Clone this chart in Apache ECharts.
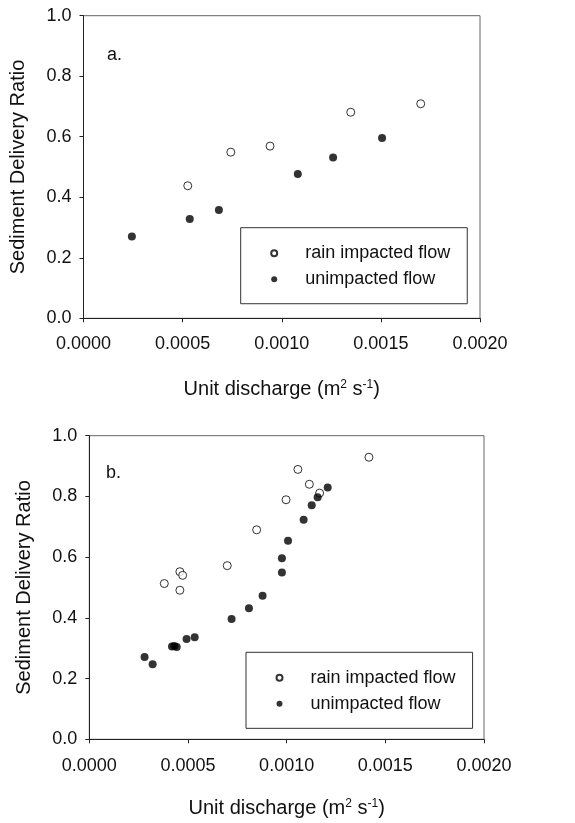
<!doctype html>
<html>
<head>
    <title>Sediment Delivery Ratio</title>
    <script src="https://cdn.jsdelivr.net/npm/echarts@6/dist/echarts.min.js"></script>
</head>
<style>
    html, body { margin: 0; padding: 0; background: #fff; }
    #main { width: 575px; height: 823px; }
</style>
<body>
<div id="main"></div>
<script>
  // panel a
  var aRainX = [0.000526, 0.000743, 0.000941, 0.001348, 0.001701];
  var aRainY = [0.438, 0.549, 0.569, 0.681, 0.709];
  var aDryX = [0.000244, 0.000536, 0.000683, 0.001081, 0.001259, 0.001506];
  var aDryY = [0.270, 0.328, 0.358, 0.477, 0.531, 0.596];

  // panel b
  var bRainX = [0.000380, 0.000459, 0.000473, 0.000459, 0.000699, 0.000848,
                0.000997, 0.001057, 0.001115, 0.001167, 0.001417];
  var bRainY = [0.513, 0.552, 0.540, 0.491, 0.572, 0.690,
                0.789, 0.889, 0.840, 0.811, 0.929];
  var bDryX = [0.000280, 0.000321, 0.000419, 0.000431, 0.000443, 0.000493,
               0.000534, 0.000721, 0.000809, 0.000878, 0.000976, 0.000976,
               0.001007, 0.001086, 0.001127, 0.001157, 0.001208];
  var bDryY = [0.271, 0.247, 0.306, 0.307, 0.304, 0.330,
               0.336, 0.396, 0.432, 0.473, 0.596, 0.549,
               0.654, 0.723, 0.771, 0.797, 0.829];

  var xTicks = [0, 0.0005, 0.001, 0.0015, 0.002];
  var yTicks = [0, 0.2, 0.4, 0.6, 0.8, 1.0];
  var rainName = 'rain impacted flow';
  var dryName = 'unimpacted flow';

  function zip(xs, ys) {
    return xs.map(function (x, i) { return [x, ys[i]]; });
  }

  var font = '"Liberation Sans", Arial, sans-serif';

  function xAxis(idx, nameGap, margin) {
    return {
      type: 'value', gridIndex: idx,
      min: xTicks[0], max: xTicks[xTicks.length - 1], interval: 0.0005,
      name: '{n|Unit discharge (m}{s|2}{n| s}{s|-1}{n|)}',
      nameLocation: 'middle', nameGap: nameGap,
      nameTextStyle: {
        rich: {
          n: { fontFamily: font, fontSize: 20, color: '#111' },
          s: { fontFamily: font, fontSize: 12, color: '#111', padding: [0, 0, 10, 0] }
        }
      },
      axisLine: { show: true, lineStyle: { color: '#222', width: 1 } },
      axisTick: { show: true, inside: false, length: 4, lineStyle: { color: '#222' } },
      axisLabel: {
        margin: margin, fontFamily: font, fontSize: 18, color: '#111',
        formatter: function (v) { return v.toFixed(4); }
      },
      splitLine: { show: false }
    };
  }

  function yAxis(idx, nameGap, margin) {
    return {
      type: 'value', gridIndex: idx,
      min: yTicks[0], max: yTicks[yTicks.length - 1], interval: 0.2,
      name: 'Sediment Delivery Ratio',
      nameLocation: 'middle', nameGap: nameGap,
      nameTextStyle: { fontFamily: font, fontSize: 20, color: '#111' },
      axisLine: { show: true, lineStyle: { color: '#222', width: 1 } },
      axisTick: { show: true, inside: false, length: 4, lineStyle: { color: '#222' } },
      axisLabel: {
        margin: margin, fontFamily: font, fontSize: 18, color: '#111',
        formatter: function (v) { return v.toFixed(1); }
      },
      splitLine: { show: false }
    };
  }

  function legend(left, top) {
    return {
      orient: 'vertical', left: left, top: top,
      data: [rainName, dryName],
      itemWidth: 52, itemHeight: 6, itemGap: -5,
      padding: [10, 17, 9, 29.5],
      borderColor: '#333', borderWidth: 1, borderRadius: 0,
      textStyle: { fontFamily: font, fontSize: 18, color: '#111', lineHeight: 20 },
      selectedMode: false
    };
  }

  var openStyle = { color: '#fff', borderColor: '#000', borderWidth: 1 };
  var fullStyle = { color: '#000', borderColor: '#000', borderWidth: 0 };

  var chart = echarts.init(document.getElementById('main'));
  chart.setOption({
    backgroundColor: '#fff',
    animation: false,
    grid: [
      { left: 83.5, top: 15.7, width: 396.5, height: 302.6, outerBoundsMode: 'none', containLabel: false,
        show: true, borderColor: '#666', borderWidth: 1 },
      { left: 89.3, top: 435.7, width: 394.7, height: 303.6, outerBoundsMode: 'none', containLabel: false,
        show: true, borderColor: '#666', borderWidth: 1 }
    ],
    xAxis: [xAxis(0, 54, 10), xAxis(1, 52, 11)],
    yAxis: [yAxis(0, 42, 12), yAxis(1, 41, 12)],
    legend: [legend(240.7, 227.7), legend(246, 652.3)],
    graphic: [
      { type: 'text', left: 107, top: 40, style: { text: 'a.', font: '18px ' + font, fill: '#111' } },
      { type: 'text', left: 106, top: 458, style: { text: 'b.', font: '18px ' + font, fill: '#111' } }
    ],
    series: [
      { name: rainName, type: 'scatter', xAxisIndex: 0, yAxisIndex: 0, symbol: 'circle', symbolSize: 8,
        itemStyle: openStyle, data: zip(aRainX, aRainY) },
      { name: dryName, type: 'scatter', xAxisIndex: 0, yAxisIndex: 0, symbol: 'circle', symbolSize: 8,
        itemStyle: fullStyle, data: zip(aDryX, aDryY) },
      { name: rainName, type: 'scatter', xAxisIndex: 1, yAxisIndex: 1, symbol: 'circle', symbolSize: 8,
        itemStyle: openStyle, data: zip(bRainX, bRainY) },
      { name: dryName, type: 'scatter', xAxisIndex: 1, yAxisIndex: 1, symbol: 'circle', symbolSize: 8,
        itemStyle: fullStyle, data: zip(bDryX, bDryY) }
    ]
  });
</script>
</body>
</html>
